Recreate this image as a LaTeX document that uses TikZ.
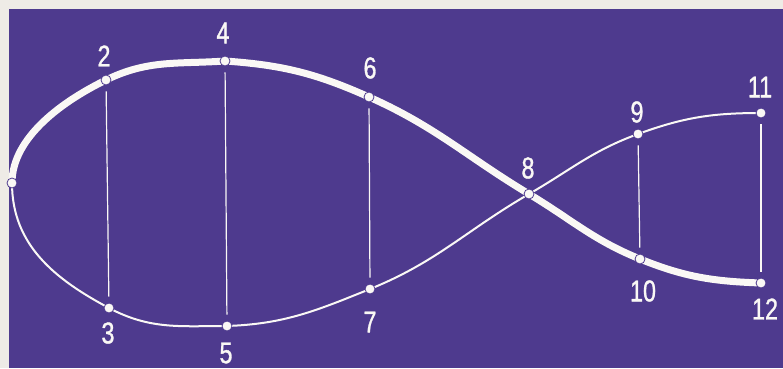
\documentclass[tikz,border=0pt]{standalone}
\usepackage{fontspec}
\usepackage{graphicx}
\setmainfont{Liberation Sans}
\newfontfamily\labfont[FakeBold=1.2]{Liberation Sans}
\definecolor{purp}{RGB}{78,58,142}
\definecolor{paper}{RGB}{238,235,230}
\definecolor{ink}{RGB}{250,248,245}
\newcommand\numlab[1]{\scalebox{0.78}[1]{#1}}
\begin{document}
\begin{tikzpicture}[x=1pt,y=1pt,
  thickline/.style={draw=ink,line width=7pt},
  thinline/.style={draw=ink,line width=2pt},
  rung/.style={draw=ink,line width=1.2pt,shorten >=6pt,shorten <=6pt},
  dot/.style={circle,inner sep=0pt,minimum size=10pt,fill=ink,draw=purp,line width=0.8pt},
  lab/.style={text=ink,inner sep=0pt,font=\labfont\fontsize{30}{30}\selectfont}]
\fill[paper] (0,0) rectangle (783,368);
\fill[purp] (9,0) rectangle (783,359);
\useasboundingbox (0,0) rectangle (783,368);
% points
\coordinate (p1) at (12,185);
\coordinate (p2) at (106,288);
\coordinate (p3) at (109,60);
\coordinate (p4) at (225,307);
\coordinate (p5) at (227,42);
\coordinate (p6) at (369,271);
\coordinate (p7) at (370,79);
\coordinate (p8) at (529,174);
\coordinate (p9) at (638,234);
\coordinate (p10) at (640,109);
\coordinate (p11) at (761,255);
\coordinate (p12) at (761,85);
% thin curve
\draw[thinline] (p1) to[out=-90,in=152] (p3) to[out=-28,in=180] (p5)
  to[out=2,in=202] (p7) to[out=22,in=210] (p8) to[out=30,in=200] (p9)
  to[out=20,in=180] (p11);
% thick curve
\draw[thickline] (p1) to[out=90,in=206,looseness=0.85] (p2) to[out=26,in=184] (p4)
  to[out=-4,in=156] (p6) to[out=-24,in=149] (p8) to[out=-31,in=158] (p10)
  to[out=-22,in=178] (p12);
% dots
\foreach \i in {1,...,12} {\node[dot] (d\i) at (p\i) {};}
% rungs
\draw[rung] (d2) -- (d3);
\draw[rung] (d4) -- (d5);
\draw[rung] (d6) -- (d7);
\draw[rung] (d9) -- (d10);
\draw[rung] (d11) -- (d12);
% labels
\node[lab] (l2) at (104,312) {\numlab{2}};
\node[lab] (l3) at (108,35) {\numlab{3}};
\node[lab] (l4) at (223,335) {\numlab{4}};
\node[lab] (l5) at (226,15) {\numlab{5}};
\node[lab] (l6) at (370,300) {\numlab{6}};
\node[lab] (l7) at (370,46) {\numlab{7}};
\node[lab] (l8) at (528,200) {\numlab{8}};
\node[lab] (l9) at (637,256) {\numlab{9}};
\node[lab] (l10) at (643,77) {\numlab{10}};
\node[lab] (l11) at (760,281) {\numlab{11}};
\node[lab] (l12) at (765,59) {\numlab{12}};
\end{tikzpicture}
\end{document}
